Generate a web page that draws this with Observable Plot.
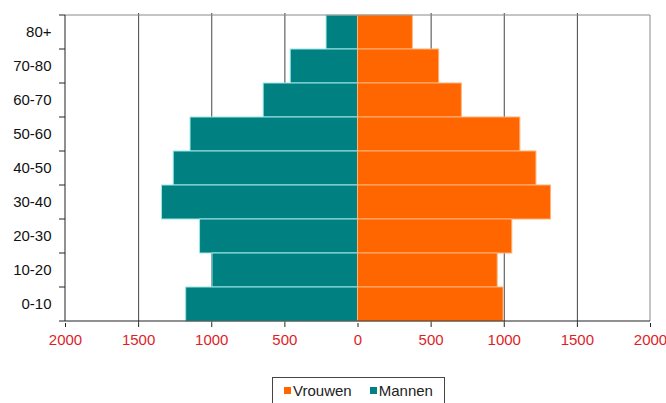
<!DOCTYPE html>
<html><head><meta charset="utf-8">
<script src="https://cdn.jsdelivr.net/npm/d3@7"></script>
<script src="https://cdn.jsdelivr.net/npm/@observablehq/plot@0.6"></script>
<style>
body{margin:0;background:#fff;font-family:"Liberation Sans",Arial,sans-serif;}
#wrap{position:relative;width:666px;height:403px;overflow:hidden;}
#legend{position:absolute;left:272px;top:377px;width:173px;height:34px;border:1px solid #444;box-sizing:border-box;background:#fff;display:flex;align-items:flex-start;justify-content:center;padding-top:4px;gap:18px;font-size:15px;color:#222;}
#legend .it{display:flex;align-items:center;gap:2px;}
#legend .sw{width:7px;height:7px;display:inline-block;}
</style></head><body>
<div id="wrap"><div id="chart"></div><div id="legend"></div></div>
<script>
const ageGroups = ["80+","70-80","60-70","50-60","40-50","30-40","20-30","10-20","0-10"];
const mannen = [215,460,645,1145,1260,1340,1080,995,1175];
const vrouwen = [375,555,710,1110,1220,1320,1055,955,995];
const xTicks = [-2000,-1500,-1000,-500,0,500,1000,1500,2000];
const gridValues = [-1500,-1000,-500,500,1000,1500];
const seriesNames = ["Vrouwen","Mannen"];
const seriesColors = ["#ff6600","#008080"];
const seriesStrokes = ["#ffb27a","#9be6e6"];

const rows = ageGroups.flatMap((g,i)=>[
  {age:g, sex:"Mannen", value:-mannen[i]},
  {age:g, sex:"Vrouwen", value:vrouwen[i]}
]);

function frameLines(index, scales, values, dims){
  const x = scales.x, y = scales.y;
  const bw = y.bandwidth ? y.bandwidth() : (y(ageGroups[1]) - y(ageGroups[0]));
  const g = d3.create("svg:g");
  const x0 = x(-2000), x1 = x(2000);
  const top = y(ageGroups[0]);
  const bottom = y(ageGroups[ageGroups.length-1]) + bw;
  g.append("line").attr("x1",x0).attr("x2",x1).attr("y1",top).attr("y2",top).attr("stroke","#8a8a8a");
  g.append("line").attr("x1",x1).attr("x2",x1).attr("y1",top).attr("y2",bottom).attr("stroke","#8a8a8a");
  g.append("line").attr("x1",x0).attr("x2",x0).attr("y1",top).attr("y2",bottom).attr("stroke","#222");
  g.append("line").attr("x1",x0).attr("x2",x1).attr("y1",bottom).attr("y2",bottom).attr("stroke","#222");
  const bounds = ageGroups.map(a=>y(a)).concat([bottom]);
  for (const b of bounds) g.append("line").attr("x1",x0-6).attr("x2",x0).attr("y1",b).attr("y2",b).attr("stroke","#222");
  return g.node();
}

const chart = Plot.plot({
  width: 666,
  height: 370,
  marginLeft: 65,
  marginRight: 16,
  marginTop: 13,
  marginBottom: 47,
  style: {fontFamily: '"Liberation Sans", Arial, sans-serif', fontSize: "15px", background: "#fff", overflow: "visible"},
  x: {domain: [-2000, 2000]},
  y: {domain: ageGroups, padding: 0},
  color: {domain: seriesNames, range: seriesColors},
  marks: [
    Plot.ruleX(gridValues, {stroke: "#444", strokeWidth: 1}),
    Plot.barX(rows, {y: "age", x: "value", fill: "sex", stroke: d => d.sex === "Mannen" ? seriesStrokes[1] : seriesStrokes[0], strokeWidth: 1, inset: 0}),
    frameLines,
    Plot.axisX(xTicks, {tickSize: 4, tickPadding: 7, tickFormat: d => String(Math.abs(d)), fill: "#dc1e28", stroke: "#222", fontSize: 15, label: null}),
    Plot.axisY({tickSize: 0, tickPadding: 14, fill: "#111", fontSize: 15, label: null})
  ]
});
document.getElementById("chart").appendChild(chart);

const legend = d3.select("#legend");
seriesNames.forEach((n,i)=>{
  const it = legend.append("div").attr("class","it");
  it.append("span").attr("class","sw").style("background", seriesColors[i]);
  it.append("span").text(n);
});
</script>
</body></html>
